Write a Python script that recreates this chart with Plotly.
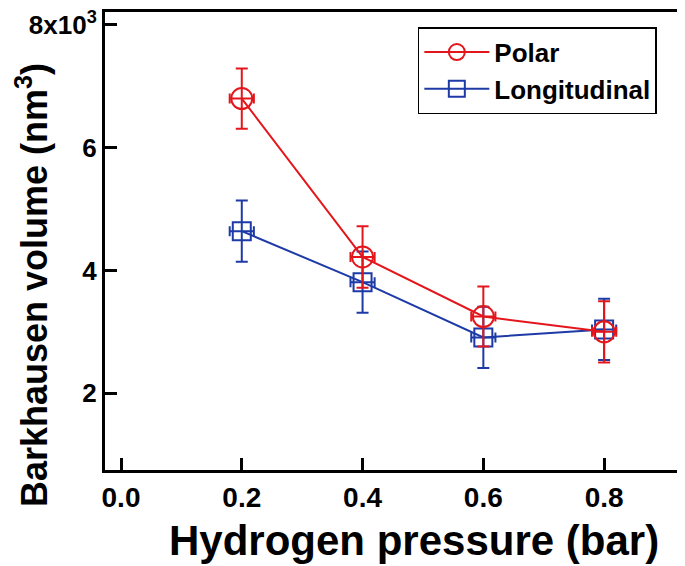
import plotly.graph_objects as go

pressure = [0.2, 0.4, 0.6, 0.8]
polar = [6.80, 4.22, 3.25, 3.00]
polar_err = [0.49, 0.50, 0.49, 0.50]
longitudinal = [4.64, 3.81, 2.91, 3.04]
longitudinal_err = [0.50, 0.50, 0.50, 0.50]
x_err = [0.02, 0.02, 0.02, 0.02]

x_ticks = [0.0, 0.2, 0.4, 0.6, 0.8]
x_ticktext = ["0.0", "0.2", "0.4", "0.6", "0.8"]
y_ticks = [2, 4, 6, 8]
y_ticktext = ["2", "4", "6", "8x10<sup>3</sup>"]

x_title = "Hydrogen pressure (bar)"
y_title = "Barkhausen volume (nm<sup>3</sup>)"

RED = "#e3161c"
BLUE = "#1d3aa6"
FONT = "Liberation Sans, Arial, sans-serif"

fig = go.Figure()

fig.add_trace(go.Scatter(
    x=pressure, y=longitudinal, name="Longitudinal", mode="lines+markers",
    line=dict(color=BLUE, width=2),
    marker=dict(symbol="square-open", size=18, color=BLUE, line=dict(width=2, color=BLUE)),
    error_y=dict(type="data", array=longitudinal_err, color=BLUE, thickness=2, width=6),
    error_x=dict(type="data", array=x_err, color=BLUE, thickness=2, width=5),
    legendrank=2,
))
fig.add_trace(go.Scatter(
    x=pressure, y=polar, name="Polar", mode="lines+markers",
    line=dict(color=RED, width=2),
    marker=dict(symbol="circle-open", size=21, color=RED, line=dict(width=2, color=RED)),
    error_y=dict(type="data", array=polar_err, color=RED, thickness=2, width=6),
    error_x=dict(type="data", array=x_err, color=RED, thickness=2, width=5),
    legendrank=1,
))

# The page body has an 8 px default margin, so the figure is 8 px smaller
# and the plot margins are offset to place the frame where the reference has it.
fig.update_layout(
    width=677, height=558,
    margin=dict(l=97, r=6, t=4, b=96, autoexpand=False),
    plot_bgcolor="white", paper_bgcolor="white",
    font=dict(family=FONT, color="black"),
    showlegend=True,
    legend=dict(
        x=0.545, y=0.967, xanchor="left", yanchor="top",
        bordercolor="black", borderwidth=1.5, bgcolor="white",
        font=dict(size=26, family=FONT, weight="bold"),
        itemwidth=65, tracegroupgap=0,
    ),
    annotations=[
        dict(text=x_title, xref="paper", yref="paper", x=0.538, y=-0.155,
             xanchor="center", yanchor="middle", showarrow=False,
             font=dict(size=42, family=FONT, weight="bold")),
        dict(text=y_title, xref="paper", yref="paper", x=-0.127, y=0.404,
             xanchor="center", yanchor="middle", showarrow=False, textangle=-90,
             font=dict(size=36, family=FONT, weight="bold")),
    ],
)

fig.update_xaxes(
    range=[-0.0265, 0.924], automargin=False,
    tickvals=x_ticks, ticktext=x_ticktext,
    ticks="inside", ticklen=12, tickwidth=3, tickcolor="black",
    showline=True, linewidth=3, linecolor="black", mirror=True,
    showgrid=False, zeroline=False,
    tickfont=dict(size=28, family=FONT, weight="bold"),
)
fig.update_yaxes(
    range=[0.75, 8.21], automargin=False,
    tickvals=y_ticks, ticktext=y_ticktext,
    ticks="inside", ticklen=12, tickwidth=3, tickcolor="black",
    ticklabeloverflow="allow",
    showline=True, linewidth=3, linecolor="black", mirror=True,
    showgrid=False, zeroline=False,
    tickfont=dict(size=26, family=FONT, weight="bold"),
)

fig.write_html("out.html")
